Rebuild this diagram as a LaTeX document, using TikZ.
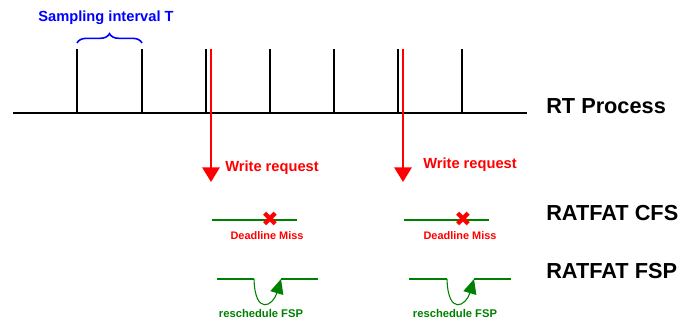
\documentclass[tikz,border=0pt]{standalone}
\usepackage{fontspec}
\setmainfont{Liberation Sans}
\usetikzlibrary{arrows.meta}
\usetikzlibrary{decorations.pathreplacing}
\usetikzlibrary{positioning}
\definecolor{reqred}{RGB}{255,0,0}
\definecolor{fspgreen}{RGB}{0,128,0}
\definecolor{tblue}{RGB}{0,0,255}

\begin{document}
\begin{tikzpicture}[x=0.75pt,y=-0.75pt,
    tick/.style={-,line width=1.7pt,color=black},
    req arrow/.style={-{Triangle[length=11pt,width=13pt]},line width=1.6pt,color=reqred},
    sched line/.style={-,line width=1.6pt,color=fspgreen},
    back arrow/.style={-{Triangle[length=11pt,width=10pt]},line width=0.8pt,color=fspgreen},
    big label/.style={anchor=west,inner sep=0pt,font=\fontsize{16.3}{18}\selectfont\bfseries},
    req label/.style={anchor=west,inner sep=0pt,text=reqred,font=\fontsize{11}{13}\selectfont\bfseries},
    miss label/.style={inner sep=0pt,text=reqred,font=\fontsize{8.2}{10}\selectfont\bfseries},
    miss mark/.style={inner sep=0pt,text=reqred,font=\fontsize{15.5}{16}\selectfont\fontspec{DejaVu Sans}},
    fsp label/.style={inner sep=0pt,text=fspgreen,font=\fontsize{8.4}{10}\selectfont\bfseries}]
   \useasboundingbox (0,0) rectangle (698,320);

   % RT process time line
   \coordinate (start) at (13,113);
   \coordinate (end) at (527,113);
   \path[tick] (start) edge (end);
   \foreach \i/\x in {1/77,2/142,3/206,4/270,5/334,6/398,7/462} {
     \coordinate (b\i) at (\x,113);
     \coordinate (t\i) at (\x,49);
     \path[tick] (b\i) edge (t\i);
   }
   \node[big label] (rt) at (546,106) {RT Process};
   \node[big label] (cfs) at (546,213.5) {RATFAT CFS};
   \node[big label] (fsp) at (546,271) {RATFAT FSP};

   % sampling interval
   \coordinate (br1) at (77,43);
   \coordinate (br2) at (142,43);
   \draw[tblue,line width=1.2pt,decorate,decoration={brace,amplitude=7pt}] (br1) -- (br2);
   \node[inner sep=0pt,text=tblue,font=\fontsize{11}{13}\selectfont\bfseries] (samp) at (106,18) {Sampling interval T};

   % first write request
   \coordinate (r1) at (211,49);
   \coordinate (q1) at (211,182);
   \path[req arrow] (r1) edge (q1);
   \node[req label] (w1) at (225,168) {Write request};
   \coordinate (c1a) at (212,220);
   \coordinate (c1b) at (297,220);
   \path[sched line] (c1a) edge (c1b);
   \node[miss mark] (x1) at (270,219) {✖};
   \node[miss label] (m1) at (267,236) {Deadline Miss};
   \coordinate (f1a) at (217,279);
   \coordinate (f1b) at (254,279);
   \coordinate (f1c) at (281,279);
   \coordinate (f1d) at (318,279);
   \path[sched line] (f1a) edge (f1b);
   \path[sched line] (f1c) edge (f1d);
   \draw[back arrow] (f1b) .. controls (255,316) and (273,306) .. (f1c);
   \node[fsp label] (s1) at (261,313) {reschedule FSP};

   % second write request
   \coordinate (r2) at (403,49);
   \coordinate (q2) at (403,182);
   \path[req arrow] (r2) edge (q2);
   \node[req label] (w2) at (423,165) {Write request};
   \coordinate (c2a) at (404,220);
   \coordinate (c2b) at (489,220);
   \path[sched line] (c2a) edge (c2b);
   \node[miss mark] (x2) at (463,219) {✖};
   \node[miss label] (m2) at (460,236) {Deadline Miss};
   \coordinate (f2a) at (409,279);
   \coordinate (f2b) at (447,279);
   \coordinate (f2c) at (474,279);
   \coordinate (f2d) at (511,279);
   \path[sched line] (f2a) edge (f2b);
   \path[sched line] (f2c) edge (f2d);
   \draw[back arrow] (f2b) .. controls (448,316) and (466,306) .. (f2c);
   \node[fsp label] (s2) at (455,313) {reschedule FSP};
\end{tikzpicture}
\end{document}
